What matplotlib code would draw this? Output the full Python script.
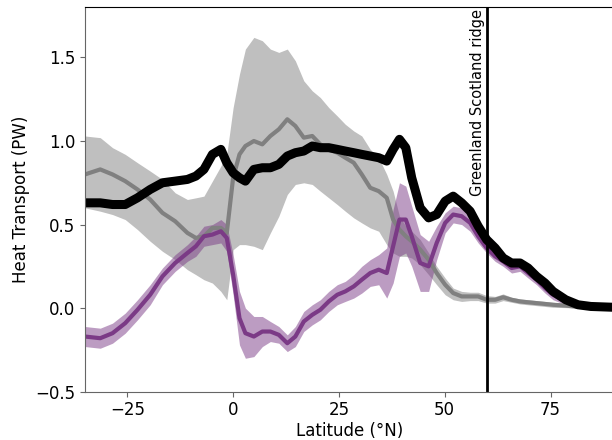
import numpy as np
import matplotlib
matplotlib.use("Agg")
import matplotlib.pyplot as plt

# latitude grid (deg N)
lat = [-35, -31.4, -28.5, -25.5, -22.6, -19.6, -16.7, -13.7, -10.8, -8.8,
       -6.9, -4.9, -2.9, -1.5, 0, 1.5, 2.9, 4.9, 6.9, 8.8,
       10.8, 12.8, 14.7, 16.7, 18.7, 20.6, 22.6, 24.6, 26.5, 28.5,
       30.4, 32.4, 34.4, 36.3, 37.8, 39.3, 40.8, 42.2, 44.2, 46.2,
       48.1, 50.1, 52, 54, 56, 57.9, 59.9, 61.9, 63.8, 65.8,
       67.8, 69.7, 71.7, 73.7, 75.6, 78.6, 81.5, 84.5, 90]

# total heat transport (black)
total = [0.63, 0.63, 0.62, 0.62, 0.66, 0.71, 0.75, 0.76, 0.77, 0.79,
         0.83, 0.92, 0.95, 0.87, 0.81, 0.78, 0.76, 0.83, 0.84, 0.84,
         0.86, 0.91, 0.93, 0.94, 0.97, 0.96, 0.96, 0.95, 0.94, 0.93,
         0.92, 0.91, 0.90, 0.88, 0.95, 1.01, 0.96, 0.78, 0.60, 0.54,
         0.56, 0.64, 0.67, 0.63, 0.58, 0.49, 0.41, 0.36, 0.30, 0.27,
         0.27, 0.24, 0.19, 0.15, 0.10, 0.05, 0.02, 0.01, 0.005]

# grey component and its spread
grey = [0.80, 0.83, 0.80, 0.76, 0.71, 0.65, 0.57, 0.52, 0.45, 0.42,
        0.43, 0.48, 0.48, 0.45, 0.78, 0.92, 0.97, 1.00, 0.98, 1.03,
        1.07, 1.13, 1.09, 1.02, 1.03, 0.98, 0.95, 0.93, 0.90, 0.87,
        0.80, 0.72, 0.70, 0.66, 0.53, 0.47, 0.43, 0.40, 0.35, 0.29,
        0.21, 0.14, 0.09, 0.07, 0.07, 0.07, 0.05, 0.05, 0.065, 0.05,
        0.04, 0.035, 0.03, 0.025, 0.02, 0.015, 0.008, 0.004, 0.0]
grey_lo = [0.60, 0.58, 0.56, 0.53, 0.47, 0.40, 0.34, 0.29, 0.23, 0.20,
           0.17, 0.15, 0.10, 0.05, 0.35, 0.38, 0.38, 0.37, 0.35, 0.45,
           0.55, 0.68, 0.74, 0.75, 0.74, 0.70, 0.66, 0.62, 0.58, 0.54,
           0.51, 0.48, 0.46, 0.38, 0.33, 0.31, 0.31, 0.30, 0.26, 0.20,
           0.14, 0.08, 0.05, 0.04, 0.045, 0.045, 0.03, 0.03, 0.045, 0.035,
           0.025, 0.02, 0.015, 0.01, 0.005, 0.003, 0.0, 0.0, 0.0]
grey_hi = [1.03, 1.02, 0.96, 0.92, 0.87, 0.82, 0.77, 0.69, 0.65, 0.66,
           0.67, 0.76, 0.85, 0.92, 1.20, 1.40, 1.55, 1.62, 1.60, 1.55,
           1.53, 1.55, 1.48, 1.36, 1.30, 1.26, 1.20, 1.15, 1.10, 1.06,
           1.03, 0.95, 0.90, 0.80, 0.70, 0.55, 0.49, 0.46, 0.41, 0.33,
           0.25, 0.18, 0.12, 0.10, 0.095, 0.095, 0.075, 0.07, 0.085, 0.065,
           0.055, 0.05, 0.045, 0.04, 0.035, 0.027, 0.016, 0.008, 0.0]

# purple component and its spread
purple = [-0.17, -0.18, -0.15, -0.09, -0.01, 0.08, 0.19, 0.27, 0.33, 0.37,
          0.43, 0.44, 0.46, 0.42, 0.20, -0.06, -0.15, -0.17, -0.14, -0.14,
          -0.16, -0.21, -0.17, -0.08, -0.04, -0.01, 0.04, 0.08, 0.10, 0.13,
          0.17, 0.21, 0.23, 0.21, 0.37, 0.53, 0.53, 0.43, 0.27, 0.25,
          0.39, 0.51, 0.56, 0.55, 0.51, 0.43, 0.36, 0.31, 0.28, 0.24,
          0.25, 0.21, 0.17, 0.12, 0.08, 0.04, 0.02, 0.005, 0.0]
purple_err = [0.06, 0.06, 0.06, 0.06, 0.06, 0.06, 0.05, 0.05, 0.05, 0.06,
              0.06, 0.06, 0.07, 0.08, 0.12, 0.16, 0.15, 0.12, 0.09, 0.06,
              0.05, 0.05, 0.06, 0.06, 0.06, 0.06, 0.06, 0.06, 0.06, 0.07,
              0.08, 0.08, 0.09, 0.15, 0.22, 0.22, 0.20, 0.18, 0.17, 0.15,
              0.10, 0.06, 0.05, 0.05, 0.05, 0.04, 0.03, 0.03, 0.03, 0.03,
              0.03, 0.03, 0.03, 0.03, 0.03, 0.02, 0.01, 0.01, 0.0]

ridge_lat = 60

lat = np.array(lat)
purple = np.array(purple)
purple_err = np.array(purple_err)

fig = plt.figure(figsize=(6.12, 4.4), dpi=100)
ax = fig.add_axes([0.1389, 0.1098, 0.8644, 0.8736])

ax.fill_between(lat, grey_lo, grey_hi, color="#bfbfbf", lw=0)
ax.plot(lat, grey, color="#808080", lw=3)
ax.fill_between(lat, purple - purple_err, purple + purple_err,
                color="#7b3a86", alpha=0.5, lw=0)
ax.plot(lat, purple, color="#7b3a86", lw=3)
ax.plot(lat, total, color="black", lw=6.5)

ax.axvline(ridge_lat, color="black", lw=2)
ax.text(ridge_lat - 0.6, 1.79, "Greenland Scotland ridge", rotation=90,
        ha="right", va="top", fontsize=10.5)

ax.set_xlim(-35, 90)
ax.set_ylim(-0.5, 1.8)
ax.set_xticks([-25, 0, 25, 50, 75])
ax.set_yticks([-0.5, 0.0, 0.5, 1.0, 1.5])
ax.tick_params(labelsize=12, color="#666666")
ax.set_xlabel("Latitude (°N)", fontsize=12, labelpad=2)
ax.set_ylabel("Heat Transport (PW)", fontsize=12)
for s in ["left", "bottom"]:
    ax.spines[s].set_color("#666666")
ax.spines["top"].set_color("black")

fig.savefig("out.png", dpi=100)
